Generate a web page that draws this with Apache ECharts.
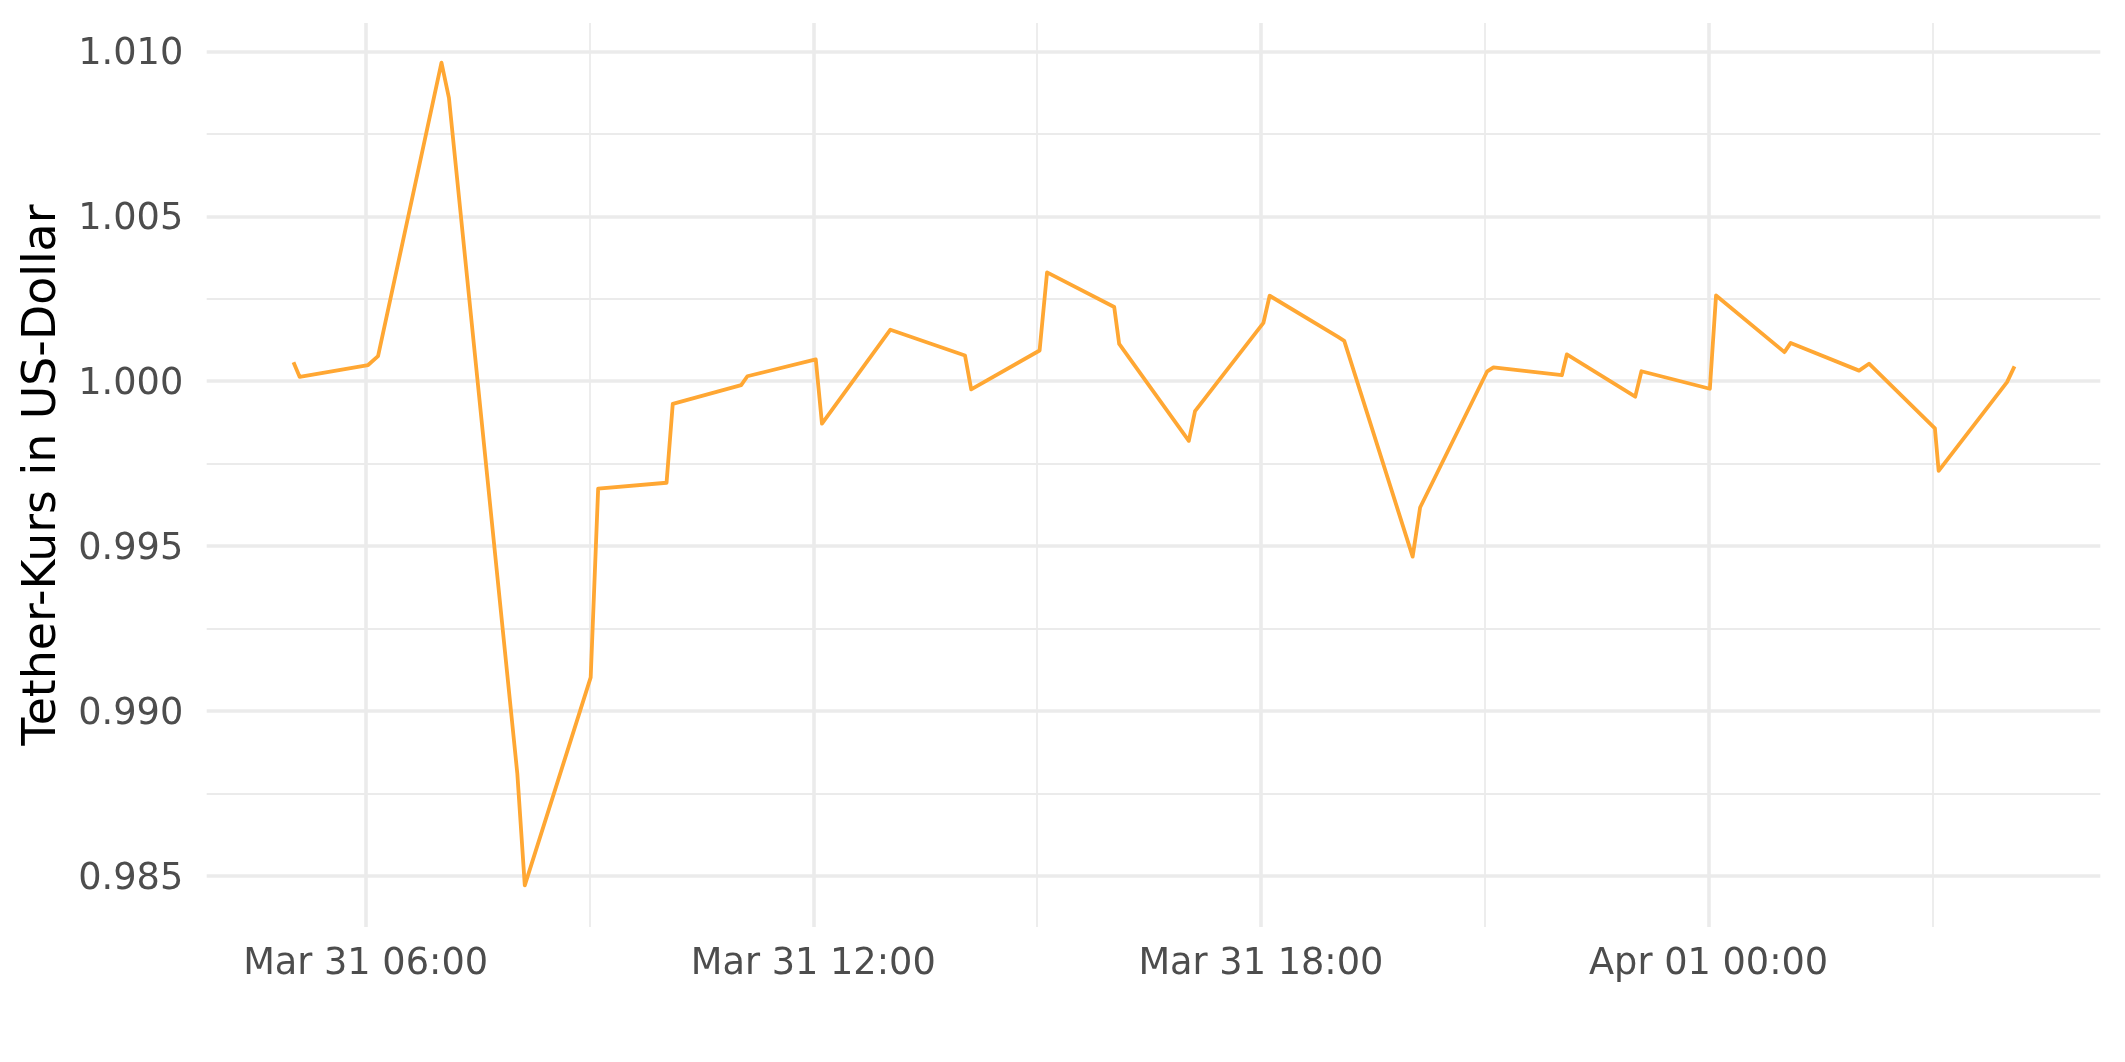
<!DOCTYPE html>
<html>
<head>
<meta charset="utf-8">
<script src="https://cdn.jsdelivr.net/npm/echarts@6/dist/echarts.min.js"></script>
<style>
  html, body { margin: 0; padding: 0; background: #ffffff; }
  #chart { width: 2125px; height: 1062px; }
</style>
</head>
<body>
<div id="chart"></div>
<script>
// ---- Data ----
var times = [
  '03-31 05:02', '03-31 05:07', '03-31 06:02', '03-31 06:10', '03-31 07:01', '03-31 07:07',
  '03-31 08:02', '03-31 08:08', '03-31 09:01', '03-31 09:07', '03-31 10:02', '03-31 10:07',
  '03-31 11:02', '03-31 11:07', '03-31 12:02', '03-31 12:07', '03-31 13:02', '03-31 14:02',
  '03-31 14:07', '03-31 15:02', '03-31 15:08', '03-31 16:02', '03-31 16:06', '03-31 17:02',
  '03-31 17:07', '03-31 18:02', '03-31 18:07', '03-31 19:02', '03-31 19:07', '03-31 20:02',
  '03-31 20:08', '03-31 21:02', '03-31 21:07', '03-31 22:02', '03-31 22:06', '03-31 23:01',
  '03-31 23:06', '04-01 00:01', '04-01 00:06', '04-01 01:01', '04-01 01:06', '04-01 02:01',
  '04-01 02:09', '04-01 03:02', '04-01 03:05', '04-01 04:00', '04-01 04:06'
];
var prices = [
  1.00057, 1.00013, 1.00049, 1.00076, 1.00966, 1.00859,
  0.98810, 0.98471, 0.99102, 0.99674, 0.99692, 0.99931,
  0.99988, 1.00015, 1.00066, 0.99871, 1.00156, 1.00078,
  0.99975, 1.00093, 1.00330, 1.00225, 1.00113, 0.99819,
  0.99909, 1.00177, 1.00259, 1.00134, 1.00122, 0.99468,
  0.99617, 1.00030, 1.00042, 1.00018, 1.00081, 0.99953,
  1.00030, 0.99977, 1.00260, 1.00088, 1.00116, 1.00032,
  1.00053, 0.99857, 0.99728, 0.99997, 1.00045
];
// x ticks in hours since Mar 31 00:00
var xMajorTicks = [6, 12, 18, 24];
var xTickLabels = ['Mar 31 06:00', 'Mar 31 12:00', 'Mar 31 18:00', 'Apr 01 00:00'];
var xMinorTicks = [9, 15, 21, 27];
var yMajorTicks = [0.985, 0.990, 0.995, 1.000, 1.005, 1.010];
var yTickLabels = ['0.985', '0.990', '0.995', '1.000', '1.005', '1.010'];
var yMinorTicks = [0.9875, 0.9925, 0.9975, 1.0025, 1.0075];

// ---- Build ----
function toHours(t) {
  var parts = t.split(' ');
  var md = parts[0].split('-');
  var hm = parts[1].split(':');
  var dayOffset = (md[0] === '04') ? 24 : 0;
  return dayOffset + parseInt(hm[0], 10) + parseInt(hm[1], 10) / 60;
}
var seriesData = times.map(function (t, i) { return [toHours(t), prices[i]]; });

var FONT = 'DejaVu Sans';
var GRID_COLOR = '#EBEBEB';
var xMin = 3.87, xMax = 29.25;
var yMin = 0.98345, yMax = 1.01086;

var chart = echarts.init(document.getElementById('chart'), null, { renderer: 'canvas' });
chart.setOption({
  animation: false,
  backgroundColor: '#ffffff',
  grid: { left: 206.7, right: 24.7, top: 23, bottom: 135, containLabel: false },
  xAxis: [
    {
      type: 'value', min: xMin, max: xMax,
      axisLine: { show: false },
      axisTick: { show: false, customValues: xMajorTicks },
      axisLabel: {
        show: true, customValues: xMajorTicks, margin: 19,
        fontFamily: FONT, fontSize: 36.7, color: '#4D4D4D',
        formatter: function (v) {
          var idx = xMajorTicks.indexOf(Math.round(v));
          return idx >= 0 ? xTickLabels[idx] : '';
        }
      },
      splitLine: { show: true, lineStyle: { color: GRID_COLOR, width: 3.6 } }
    },
    {
      type: 'value', min: xMin, max: xMax, position: 'bottom',
      axisLine: { show: false },
      axisTick: { show: false, customValues: xMinorTicks },
      axisLabel: { show: false, customValues: xMinorTicks },
      splitLine: { show: true, lineStyle: { color: GRID_COLOR, width: 1.8 } }
    }
  ],
  yAxis: [
    {
      type: 'value', min: yMin, max: yMax,
      name: 'Tether-Kurs in US-Dollar', nameLocation: 'middle', nameGap: 141,
      nameTextStyle: { fontFamily: FONT, fontSize: 45.8, color: '#000000' },
      axisLine: { show: false },
      axisTick: { show: false, customValues: yMajorTicks },
      axisLabel: {
        show: true, customValues: yMajorTicks, margin: 23.4,
        fontFamily: FONT, fontSize: 36.7, color: '#4D4D4D',
        formatter: function (v) {
          for (var i = 0; i < yMajorTicks.length; i++) {
            if (Math.abs(yMajorTicks[i] - v) < 1e-7) return '{v|' + yTickLabels[i] + '}';
          }
          return '';
        },
        rich: {
          v: { fontFamily: FONT, fontSize: 36.7, color: '#4D4D4D', padding: [7, 0, 0, 0] }
        }
      },
      splitLine: { show: true, lineStyle: { color: GRID_COLOR, width: 3.6 } }
    },
    {
      type: 'value', min: yMin, max: yMax, position: 'left',
      axisLine: { show: false },
      axisTick: { show: false, customValues: yMinorTicks },
      axisLabel: { show: false, customValues: yMinorTicks },
      splitLine: { show: true, lineStyle: { color: GRID_COLOR, width: 1.8 } }
    }
  ],
  series: [
    {
      type: 'line',
      xAxisIndex: 0, yAxisIndex: 0,
      data: seriesData,
      showSymbol: false,
      symbol: 'none',
      lineStyle: { color: '#FFA733', width: 3.8, join: 'round', cap: 'butt' },
      z: 5
    }
  ]
});
</script>
</body>
</html>
